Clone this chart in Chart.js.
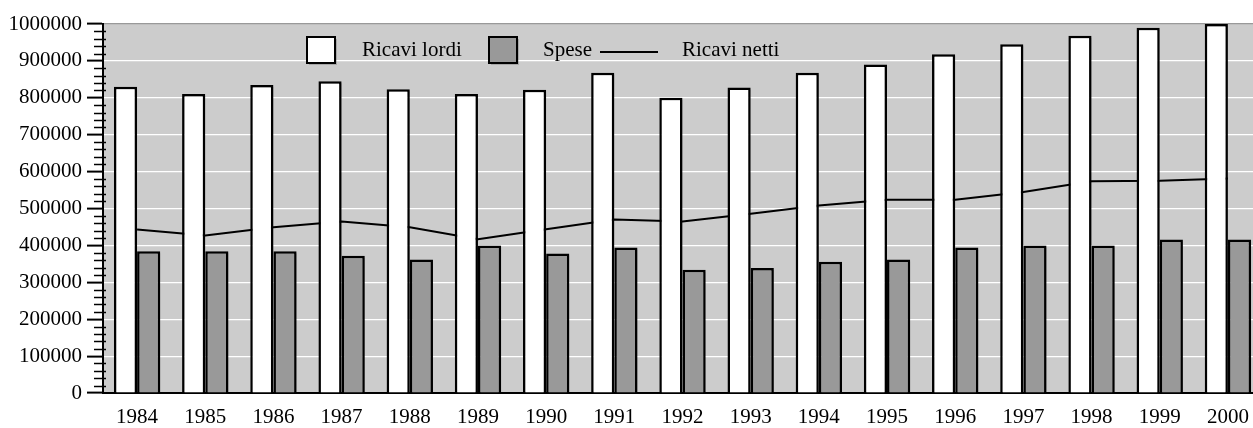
<!DOCTYPE html>
<html>
<head>
<meta charset="utf-8">
<script src="https://cdn.jsdelivr.net/npm/chart.js@4/dist/chart.umd.min.js"></script>
<style>
html, body { margin: 0; padding: 0; overflow: hidden; background: #fff; }
#wrap { width: 1262px; height: 428px; }
</style>
</head>
<body>
<div id="wrap"><canvas id="chart" width="1262" height="428"></canvas></div>
<script>
// data
var anni = ["1984","1985","1986","1987","1988","1989","1990","1991","1992","1993","1994","1995","1996","1997","1998","1999","2000"];
var ricaviLordi = [830000,810000,835000,845000,823000,810000,822000,868000,800000,828000,868000,890000,918000,945000,968000,990000,1000000];
var spese = [384000,384000,384000,372000,362000,400000,378000,394000,334000,339000,356000,362000,394000,400000,400000,416000,416000];
var ricaviNetti = [443000,427000,449000,465000,449000,417000,444000,470000,465000,486000,508000,524000,524000,545000,574000,575000,581000];
var yTicks = [0,100000,200000,300000,400000,500000,600000,700000,800000,900000,1000000];

var FONT = "'Liberation Serif', 'Times New Roman', serif";

// grey plot background
var sfondo = {
    id: 'sfondo',
    beforeDraw: function(chart) {
        var a = chart.chartArea, c = chart.ctx;
        c.save();
        c.fillStyle = '#cccccc';
        c.fillRect(a.left, a.top, a.right - a.left, a.bottom - a.top);
        c.restore();
    }
};

// soft drop shadow under the bars
var ombra = {
    id: 'ombra',
    beforeDatasetDraw: function(chart, args) {
        if (args.meta.type !== 'bar') return;
        var c = chart.ctx;
        c.save();
        c.shadowColor = 'rgba(0,0,0,0.18)';
        c.shadowOffsetX = 2;
        c.shadowOffsetY = 2;
        c.shadowBlur = 0;
    },
    afterDatasetDraw: function(chart, args) {
        if (args.meta.type !== 'bar') return;
        chart.ctx.restore();
    }
};

// small ticks between the labelled ones
var tacche = {
    id: 'tacche',
    afterDraw: function(chart) {
        var y = chart.scales.y, c = chart.ctx, left = chart.chartArea.left;
        c.save();
        c.strokeStyle = '#000';
        c.lineWidth = 1.5;
        for (var v = 0; v <= 1000000; v += 20000) {
            if (v % 100000 === 0) continue;
            var py = Math.round(y.getPixelForValue(v)) + 0.5;
            c.beginPath();
            c.moveTo(left - 9, py);
            c.lineTo(left + 3, py);
            c.stroke();
        }
        c.restore();
    }
};

// legend drawn inside the plot like the original
var legenda = {
    id: 'legenda',
    afterDraw: function(chart) {
        var c = chart.ctx, ds = chart.data.datasets;
        c.save();
        c.font = '21px ' + FONT;
        c.textBaseline = 'alphabetic';
        c.lineWidth = 2;
        c.strokeStyle = '#000';

        c.fillStyle = 'rgba(0,0,0,0.18)';
        c.fillRect(309, 39, 28, 26);
        c.fillRect(491, 39, 28, 26);

        c.fillStyle = ds[0].backgroundColor;
        c.fillRect(307, 37, 28, 26);
        c.strokeRect(307, 37, 28, 26);
        c.fillStyle = '#000';
        c.fillText(ds[0].label, 362, 56);

        c.fillStyle = ds[1].backgroundColor;
        c.fillRect(489, 37, 28, 26);
        c.strokeRect(489, 37, 28, 26);
        c.fillStyle = '#000';
        c.fillText(ds[1].label, 543, 56);

        c.beginPath();
        c.moveTo(600, 52);
        c.lineTo(658, 52);
        c.stroke();
        c.fillText(ds[2].label, 682, 56);
        c.restore();
    }
};

const ctx = document.getElementById('chart');

const chart = new Chart(ctx, {
    type: 'bar',
    data: {
        labels: anni,
        datasets: [{
            label: 'Ricavi lordi',
            data: ricaviLordi,
            backgroundColor: '#ffffff',
            borderColor: '#000000',
            borderWidth: 2.5,
            order: 1
        }, {
            label: 'Spese',
            data: spese,
            backgroundColor: '#999999',
            borderColor: '#000000',
            borderWidth: 2.5,
            order: 1
        }, {
            type: 'line',
            label: 'Ricavi netti',
            data: ricaviNetti,
            borderColor: '#000000',
            borderWidth: 2,
            pointRadius: 0,
            tension: 0,
            fill: false,
            order: 2
        }]
    },
    options: {
        responsive: false,
        animation: false,
        datasets: {
            bar: { barPercentage: 1, categoryPercentage: 0.68 }
        },
        layout: { padding: { top: 24, left: 0, right: 0, bottom: 0 } },
        plugins: {
            legend: { display: false },
            tooltip: { enabled: false },
            title: { display: false }
        },
        scales: {
            x: {
                offset: true,
                grid: { display: false, drawTicks: false },
                border: { display: true, color: '#000', width: 2 },
                ticks: { color: '#000', font: { family: FONT, size: 21 }, padding: 12, maxRotation: 0, autoSkip: false },
                afterFit: function(scale) { scale.height = 35; }
            },
            y: {
                min: 0,
                max: 1000000,
                afterBuildTicks: function(scale) {
                    scale.ticks = yTicks.map(function(v) { return { value: v }; });
                },
                grid: {
                    color: function(c) { return c.tick && c.tick.value === 1000000 ? '#999999' : '#ffffff'; },
                    lineWidth: 1.2,
                    tickColor: '#000',
                    tickWidth: 2,
                    tickLength: 16,
                    drawTicks: true
                },
                border: { display: true, color: '#000', width: 2 },
                ticks: {
                    color: '#000',
                    font: { family: FONT, size: 21 },
                    padding: 5,
                    callback: function(v) { return String(v); }
                },
                afterFit: function(scale) { scale.width = 103; }
            }
        }
    },
    plugins: [sfondo, ombra, tacche, legenda]
});
</script>
</body>
</html>
